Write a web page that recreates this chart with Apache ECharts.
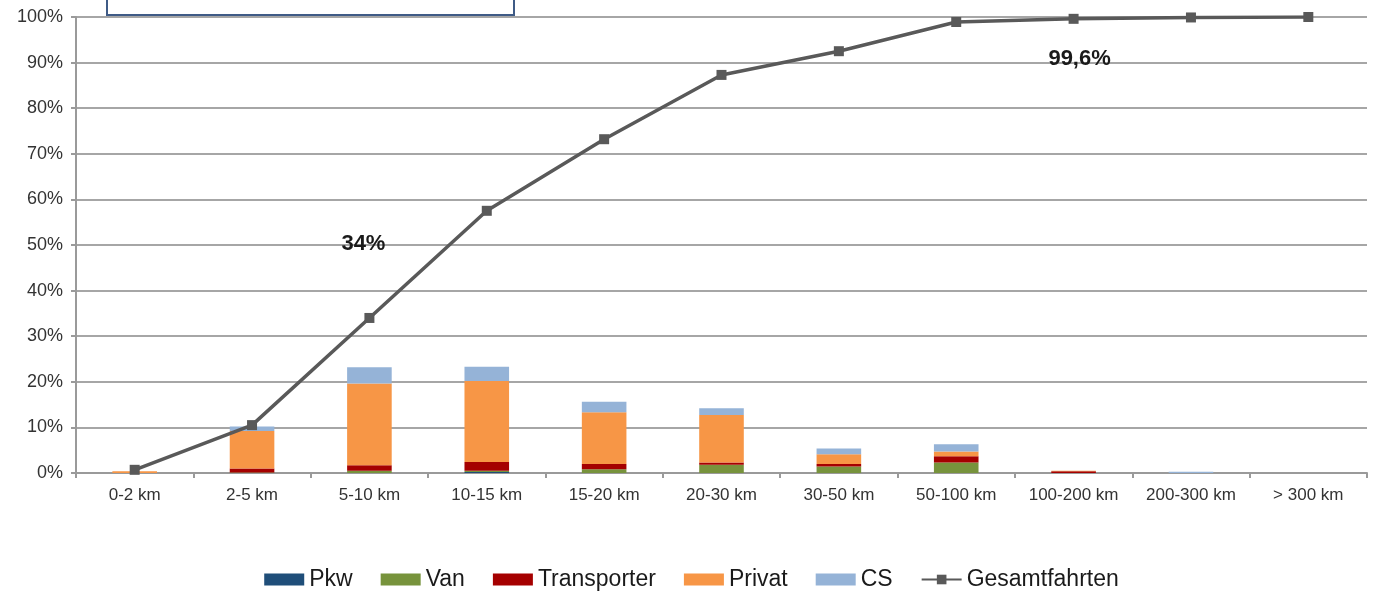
<!DOCTYPE html>
<html>
<head>
<meta charset="utf-8">
<script src="https://cdn.jsdelivr.net/npm/echarts@6/dist/echarts.min.js"></script>
<style>
    html, body { margin: 0; padding: 0; background: #fff; }
    #chart { width: 1383px; height: 598px; }
</style>
</head>
<body>
<div id="chart"></div>
<script>
    // Strecken-Kategorien
    var categories = ['0-2 km', '2-5 km', '5-10 km', '10-15 km', '15-20 km', '20-30 km', '30-50 km', '50-100 km', '100-200 km', '200-300 km', '> 300 km'];

    // Anteile in Prozent (gestapelt)
    var pkw         = [0,   0,   0,    0.2,  0,    0,    0,   0,   0,   0,   0];
    var van         = [0,   0.1, 0.5,  0.3,  0.8,  1.8,  1.4, 2.3, 0,   0,   0];
    var transporter = [0,   0.9, 1.2,  1.9,  1.2,  0.5,  0.6, 1.4, 0.4, 0,   0];
    var privat      = [0.4, 8.2, 17.9, 17.8, 11.3, 10.4, 2.1, 1.0, 0.1, 0,   0];
    var cs          = [0,   1.0, 3.6,  3.1,  2.3,  1.5,  1.3, 1.6, 0,   0.3, 0];

    // kumulierte Gesamtfahrten
    var gesamt      = [0.7, 10.5, 34.0, 57.5, 73.2, 87.3, 92.5, 98.9, 99.6, 99.9, 100];
    var gesamtLabels = ['', '', '34%', '', '', '', '', '', '99,6%', '', ''];

    var yTicks = [0, 10, 20, 30, 40, 50, 60, 70, 80, 90, 100];

    var font = 'Liberation Sans, Arial, sans-serif';

    function barSeries(name, data, color) {
        return {
            name: name,
            type: 'bar',
            stack: 'anteil',
            barWidth: '38%',
            itemStyle: { color: color },
            data: data
        };
    }

    var lineData = gesamt.map(function (v, i) {
        if (!gesamtLabels[i]) return v;
        var up = i < 5;
        return {
            value: v,
            label: {
                show: true,
                formatter: gesamtLabels[i],
                position: up ? 'top' : 'bottom',
                offset: up ? [-6, -53] : [6, 19],
                fontFamily: font,
                fontSize: 22,
                fontWeight: 'bold',
                color: '#1a1a1a'
            }
        };
    });

    var chart = echarts.init(document.getElementById('chart'));
    chart.setOption({
        animation: false,
        backgroundColor: '#fff',
        textStyle: { fontFamily: font },
        grid: { left: 76, right: 16, top: 17, bottom: 125 },
        legend: {
            bottom: 2,
            left: 'center',
            itemWidth: 40,
            itemHeight: 12,
            itemGap: 28,
            textStyle: { fontFamily: font, fontSize: 23, color: '#1a1a1a' },
            data: [
                { name: 'Pkw', icon: 'rect' },
                { name: 'Van', icon: 'rect' },
                { name: 'Transporter', icon: 'rect' },
                { name: 'Privat', icon: 'rect' },
                { name: 'CS', icon: 'rect' },
                'Gesamtfahrten'
            ]
        },
        xAxis: {
            type: 'category',
            data: categories,
            axisLine: { lineStyle: { color: '#9a9a9a', width: 2 } },
            axisTick: { show: true, length: 5, lineStyle: { color: '#9a9a9a', width: 2 } },
            axisLabel: { fontFamily: font, fontSize: 17, color: '#333', margin: 14, interval: 0 }
        },
        yAxis: {
            type: 'value',
            min: yTicks[0],
            max: yTicks[yTicks.length - 1],
            interval: 10,
            axisLine: { show: true, lineStyle: { color: '#9a9a9a', width: 2 } },
            axisTick: { show: true, length: 5, lineStyle: { color: '#9a9a9a', width: 2 } },
            splitLine: { lineStyle: { color: '#a6a6a6', width: 2 } },
            axisLabel: { fontFamily: font, fontSize: 18, color: '#333', margin: 13, formatter: '{value}%' }
        },
        graphic: [{
            type: 'rect',
            shape: { x: 107, y: -20, width: 407, height: 35 },
            style: { fill: '#fff', stroke: '#3f5b86', lineWidth: 2 },
            z: 100
        }],
        series: [
            barSeries('Pkw', pkw, '#1f4e79'),
            barSeries('Van', van, '#77933c'),
            barSeries('Transporter', transporter, '#a50000'),
            barSeries('Privat', privat, '#f79646'),
            barSeries('CS', cs, '#95b3d7'),
            {
                name: 'Gesamtfahrten',
                type: 'line',
                data: lineData,
                symbol: 'rect',
                symbolSize: 10,
                itemStyle: { color: '#595959' },
                lineStyle: { color: '#595959', width: 3.5 },
                z: 10
            }
        ]
    });
</script>
</body>
</html>
